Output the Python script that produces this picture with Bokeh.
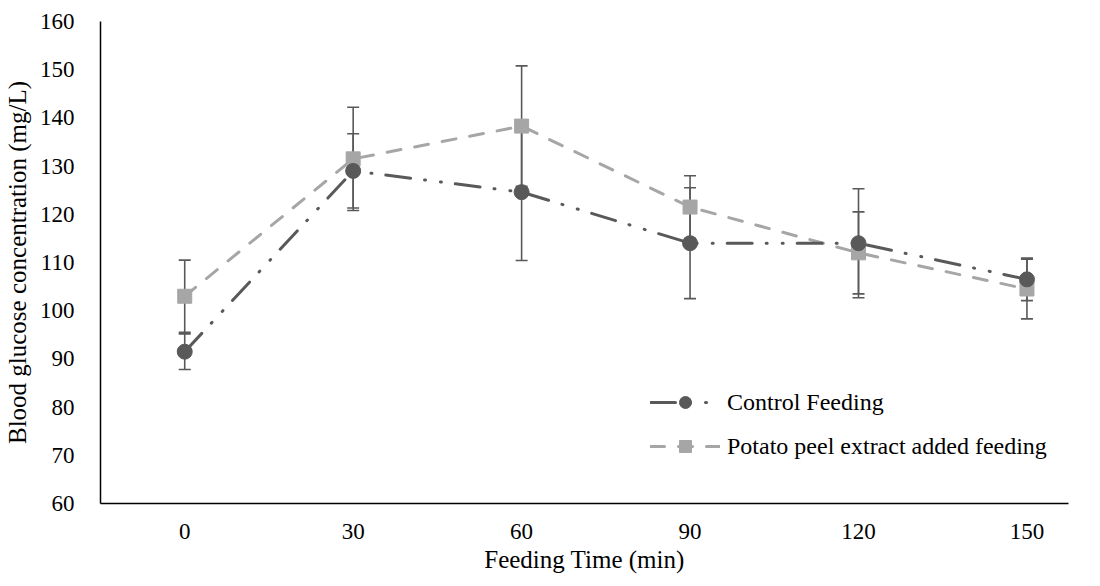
from bokeh.plotting import figure
from bokeh.models import ColumnDataSource, Whisker, TeeHead, FixedTicker, Range1d, Legend, LegendItem
from bokeh.embed import file_html
from bokeh.resources import INLINE

times = [0, 30, 60, 90, 120, 150]
control = [91.5, 129.0, 124.6, 114.0, 114.0, 106.5]
control_err = [3.7, 7.7, 14.2, 11.5, 11.3, 4.4]
potato = [103.0, 131.5, 138.3, 121.5, 112.0, 104.5]
potato_err = [7.5, 10.7, 12.5, 6.5, 8.5, 6.2]
y_ticks = [60, 70, 80, 90, 100, 110, 120, 130, 140, 150, 160]

DARK = "#595959"
LIGHT = "#a6a6a6"
FONT = "serif"

p = figure(width=1084, height=578, output_backend="svg", toolbar_location=None,
           x_range=Range1d(-15, 157.4), y_range=Range1d(60, 160),
           min_border_left=100, min_border_right=16, min_border_top=21, min_border_bottom=75)
p.outline_line_color = None
p.xgrid.grid_line_color = None
p.ygrid.grid_line_color = None

for ax in (p.xaxis[0], p.yaxis[0]):
    ax.axis_line_color = "black"
    ax.axis_line_width = 1.5
    ax.major_tick_line_color = None
    ax.minor_tick_line_color = None
    ax.major_label_text_font = FONT
    ax.major_label_text_font_size = "23px"
    ax.major_label_text_color = "black"
    ax.axis_label_text_font = FONT
    ax.axis_label_text_font_size = "25px"
    ax.axis_label_text_font_style = "normal"
    ax.axis_label_text_color = "black"

p.xaxis.ticker = FixedTicker(ticks=times)
p.yaxis.ticker = FixedTicker(ticks=y_ticks)
p.xaxis.axis_label = "Feeding Time (min)"
p.yaxis.axis_label = "Blood glucose concentration (mg/L)"
p.xaxis.major_label_standoff = 14
p.yaxis.major_label_standoff = 20
p.xaxis.axis_label_standoff = 4
p.yaxis.axis_label_standoff = 6

def errsrc(vals, errs):
    return ColumnDataSource(dict(x=times, y=vals,
                                 lo=[v - e for v, e in zip(vals, errs)],
                                 hi=[v + e for v, e in zip(vals, errs)]))

src_c = errsrc(control, control_err)
src_p = errsrc(potato, potato_err)

for s in (src_c, src_p):
    w = Whisker(source=s, base="x", upper="hi", lower="lo", dimension="height",
                line_color=DARK, line_width=1.6,
                upper_head=TeeHead(size=12, line_color=DARK, line_width=1.6),
                lower_head=TeeHead(size=12, line_color=DARK, line_width=1.6))
    p.add_layout(w)

lp = p.line("x", "y", source=src_p, line_color=LIGHT, line_width=3,
            line_dash="14 14", line_cap="round")
mp = p.scatter("x", "y", source=src_p, marker="square", size=14,
               fill_color=LIGHT, line_color=LIGHT)
lc = p.line("x", "y", source=src_c, line_color=DARK, line_width=3,
            line_dash="25 14 1 15 1 14", line_cap="round")
mc = p.scatter("x", "y", source=src_c, marker="circle", size=15,
               fill_color=DARK, line_color=DARK)

legend = Legend(items=[LegendItem(label="Control Feeding", renderers=[lc, mc]),
                       LegendItem(label="Potato peel extract added feeding", renderers=[lp, mp])],
                location=(550, 42))
legend.label_text_font = FONT
legend.label_text_font_size = "24px"
legend.label_text_color = "black"
legend.glyph_width = 70
legend.glyph_height = 30
legend.label_height = 30
legend.spacing = 14
legend.padding = 0
legend.margin = 0
legend.label_standoff = 7
legend.border_line_color = None
legend.background_fill_alpha = 0
p.add_layout(legend, "center")

open("out.html", "w").write(file_html(p, INLINE))
